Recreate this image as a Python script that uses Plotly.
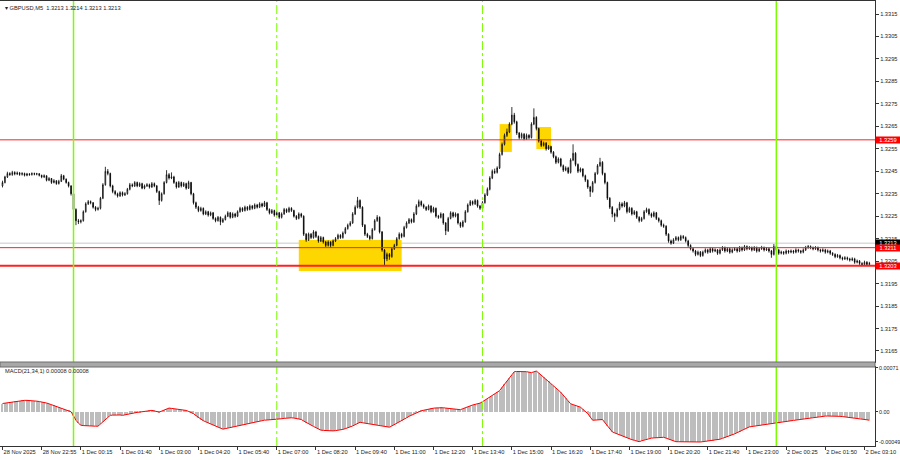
import pandas as pd
import plotly.graph_objects as go

# ---------------- data (prices as pips above BASE) ----------------
BASE = 1.3200
PIP = 0.0001

open_pips = [
    38.5, 40.0, 42.5, 44.0, 43.5, 44.5, 43.8, 44.2, 43.6, 44.0,
    43.2, 43.8, 43.5, 44.0, 43.7, 43.9, 43.2, 42.5, 43.0, 41.0,
    41.8, 40.0, 40.8, 39.5, 40.5, 43.0, 41.5, 40.0, 38.5, 35.0,
    28.0, 23.0, 22.5, 23.0, 27.0, 30.5, 31.5, 31.0, 29.0, 28.0,
    28.5, 33.0, 39.0, 45.0, 44.0, 38.5, 36.0, 35.0, 34.0, 35.5,
    34.5, 35.0, 37.0, 39.0, 38.5, 40.0, 38.5, 39.5, 37.5, 38.5,
    39.0, 38.0, 39.5, 38.5, 36.0, 32.0, 35.0, 40.0, 43.5, 42.0,
    42.5, 40.0, 38.0, 40.0, 38.5, 39.5, 37.5, 40.0, 35.0, 31.0,
    29.0, 27.5, 28.5, 26.0, 27.0, 25.5, 26.5, 24.0, 23.0, 24.5,
    22.5, 23.5, 25.0, 26.5, 24.5, 26.0, 25.0, 27.0, 28.5, 27.5,
    29.0, 28.0, 29.5, 28.5, 30.0, 29.0, 30.5, 29.5, 31.0, 28.0,
    26.5, 27.5, 25.5, 26.5, 24.5, 26.0, 28.0, 27.0, 28.5, 27.5,
    25.0, 24.0, 26.0, 25.0, 17.0, 14.5, 17.0, 15.5, 18.0, 16.0,
    14.0, 15.5, 13.5, 12.0, 13.5, 12.0, 14.0, 15.0, 16.5, 15.5,
    17.5, 19.5, 21.0, 22.0, 26.0, 29.0, 32.0, 29.0, 21.0, 17.0,
    16.0, 15.0, 19.0, 23.0, 24.5, 18.0, 10.0, 6.0, 8.0, 7.0,
    10.5, 12.0, 15.0, 17.0, 16.0, 20.0, 22.0, 23.5, 22.5, 26.0,
    29.5, 31.5, 30.0, 29.0, 28.0, 29.5, 27.0, 28.5, 25.0, 24.5,
    26.0, 22.0, 18.5, 24.0, 26.5, 25.0, 26.0, 22.0, 20.5, 22.5,
    27.0, 30.0, 31.5, 30.5, 32.0, 29.5, 28.5, 31.0, 34.5, 37.0,
    42.0, 45.0, 44.5, 46.5, 52.5, 57.0, 61.0, 62.5, 66.0, 70.0,
    67.0, 62.0, 60.0, 61.5, 59.5, 61.0, 60.0, 66.0, 69.0, 64.0,
    58.5, 56.5, 57.5, 55.0, 56.0, 53.5, 51.5, 49.0, 50.5, 47.5,
    45.5, 46.5, 44.5, 50.0, 53.0, 48.0, 45.0, 46.0, 43.0, 41.0,
    38.0, 36.0, 40.0, 44.0, 47.5, 49.0, 44.0, 40.0, 33.0, 29.0,
    26.0, 25.0, 28.0, 30.5, 29.5, 31.0, 27.0, 28.5, 26.0, 27.0,
    24.5, 23.0, 24.0, 27.0, 28.0, 26.0, 25.0, 26.5, 24.0, 23.0,
    21.0, 20.5, 17.0, 14.0, 13.0, 14.5, 15.5, 14.5, 16.0, 15.5,
    14.0, 12.0, 10.5, 9.5, 8.0, 9.0, 7.5, 9.0, 10.0, 9.0,
    10.5, 9.5, 10.0, 8.5, 10.0, 11.0, 9.5, 10.5, 9.0, 10.0,
    10.5, 9.5, 11.0, 10.0, 11.5, 10.5, 11.0, 10.0, 11.0, 9.5,
    10.5, 11.0, 10.0, 10.5, 9.5, 8.0, 11.5, 10.0, 8.5, 9.0,
    8.5, 9.5, 9.0, 9.5, 9.0, 10.0, 9.5, 9.0, 10.0, 11.0,
    11.5, 11.0, 10.5, 11.0, 10.0, 9.5, 10.0, 9.0, 9.5, 8.5,
    8.0, 7.0, 7.5, 6.5, 6.0, 6.5, 6.0, 5.5, 6.0, 4.5,
    5.0, 4.0, 3.5, 4.5, 3.5,
]

high_pips = [
    40.8, 43.0, 44.8, 44.6, 45.2, 45.0, 44.9, 44.7, 44.6, 44.4,
    44.3, 44.2, 44.5, 44.4, 44.3, 44.2, 43.5, 43.6, 43.2, 42.4,
    42.0, 41.5, 41.0, 41.2, 43.8, 43.4, 41.8, 40.4, 38.8, 35.3,
    28.5, 23.8, 23.6, 27.6, 31.2, 32.2, 32.0, 31.3, 29.5, 29.2,
    33.6, 39.7, 47.0, 46.0, 44.4, 39.0, 36.6, 35.5, 36.1, 36.0,
    35.7, 37.6, 39.8, 39.6, 40.6, 40.4, 40.1, 39.9, 39.1, 39.7,
    39.5, 40.2, 40.0, 38.9, 36.4, 35.6, 40.6, 45.5, 44.2, 44.5,
    43.0, 40.4, 40.7, 40.4, 40.2, 39.9, 40.8, 40.3, 35.4, 31.5,
    29.6, 29.2, 28.9, 27.6, 27.4, 27.1, 26.9, 24.5, 25.1, 24.9,
    24.2, 25.7, 27.2, 26.9, 26.7, 26.5, 27.6, 29.2, 29.0, 29.7,
    29.5, 30.2, 30.0, 30.7, 30.5, 31.2, 31.0, 31.8, 31.4, 28.5,
    28.2, 27.9, 27.2, 26.9, 26.7, 28.7, 28.5, 29.2, 29.0, 27.9,
    25.5, 26.7, 26.5, 25.4, 17.5, 17.7, 17.5, 18.8, 18.5, 16.4,
    16.2, 15.9, 14.0, 14.2, 13.9, 14.7, 15.7, 17.2, 17.0, 18.2,
    20.2, 21.7, 22.8, 26.8, 29.8, 33.6, 32.5, 29.4, 21.5, 17.6,
    16.6, 19.7, 23.7, 25.5, 24.9, 18.4, 10.4, 8.8, 8.6, 11.2,
    12.7, 15.7, 17.8, 17.6, 20.7, 22.7, 24.2, 24.0, 26.8, 30.3,
    32.4, 32.0, 30.6, 29.5, 30.2, 29.9, 29.2, 28.9, 25.6, 26.7,
    26.4, 22.4, 24.7, 27.2, 27.0, 26.7, 26.4, 22.5, 23.2, 27.7,
    30.7, 32.2, 32.0, 32.7, 32.4, 30.0, 31.7, 35.2, 37.8, 42.8,
    45.8, 46.2, 47.2, 53.3, 57.8, 61.8, 64.0, 66.8, 73.6, 71.0,
    67.5, 62.5, 62.2, 62.0, 61.8, 61.5, 66.8, 73.0, 69.5, 64.4,
    59.0, 58.2, 58.0, 56.7, 56.4, 54.0, 52.0, 51.2, 51.0, 48.0,
    47.2, 47.0, 50.8, 57.0, 53.5, 48.5, 46.7, 46.4, 43.5, 41.4,
    38.5, 40.7, 44.7, 48.2, 51.0, 49.5, 44.4, 40.4, 33.5, 29.5,
    26.6, 28.7, 31.4, 31.2, 31.8, 31.4, 29.2, 29.0, 27.7, 27.4,
    25.0, 24.7, 27.7, 28.8, 28.5, 26.6, 27.2, 26.9, 24.5, 23.5,
    21.7, 21.0, 17.4, 14.6, 15.2, 16.2, 16.0, 16.7, 16.6, 16.0,
    14.5, 12.5, 11.0, 10.0, 9.7, 9.5, 9.7, 10.7, 10.5, 11.2,
    11.0, 10.7, 10.4, 10.7, 11.7, 11.5, 11.2, 11.0, 10.7, 11.2,
    11.0, 11.7, 11.5, 12.2, 12.0, 11.7, 11.5, 11.7, 11.5, 11.2,
    11.8, 11.5, 11.2, 11.0, 10.0, 12.6, 12.0, 10.5, 9.7, 9.5,
    10.2, 10.0, 10.2, 10.0, 10.7, 10.5, 10.0, 10.7, 11.8, 12.2,
    12.0, 11.5, 11.7, 11.5, 10.5, 10.7, 10.5, 10.2, 10.0, 9.0,
    8.5, 8.2, 8.0, 7.0, 7.2, 7.0, 6.5, 6.7, 6.5, 5.7,
    5.5, 4.5, 5.2, 5.0, 4.7,
]

low_pips = [
    37.8, 39.6, 42.0, 43.0, 43.0, 43.2, 43.3, 43.0, 43.1, 42.7,
    42.8, 43.0, 43.1, 43.2, 43.2, 42.7, 41.9, 42.0, 40.5, 40.6,
    39.4, 39.6, 39.0, 39.1, 40.2, 41.0, 39.5, 37.8, 34.2, 27.0,
    21.0, 21.5, 21.8, 22.6, 26.6, 30.0, 30.3, 28.4, 27.2, 27.5,
    28.0, 32.6, 38.6, 43.2, 37.8, 35.2, 34.3, 33.3, 33.6, 33.8,
    34.0, 34.6, 36.5, 37.9, 38.0, 37.9, 38.0, 37.0, 37.0, 38.0,
    37.3, 37.6, 37.9, 35.3, 30.0, 31.5, 34.6, 39.6, 41.3, 41.5,
    39.4, 37.3, 37.6, 37.8, 38.0, 36.8, 37.1, 34.3, 30.2, 28.2,
    26.8, 27.0, 25.4, 25.5, 24.8, 25.0, 23.4, 22.3, 22.6, 21.0,
    22.0, 23.1, 24.6, 23.9, 24.1, 24.3, 24.6, 26.6, 26.9, 27.1,
    27.4, 27.6, 27.9, 28.1, 28.4, 28.6, 28.9, 29.1, 27.3, 25.8,
    26.0, 24.8, 25.0, 23.8, 24.0, 25.6, 26.4, 26.6, 26.9, 24.4,
    23.3, 23.6, 24.3, 16.2, 13.6, 14.0, 14.8, 15.0, 15.3, 13.2,
    13.5, 12.8, 11.2, 11.5, 11.0, 11.6, 13.5, 14.6, 14.9, 15.0,
    17.0, 19.0, 20.4, 21.6, 25.5, 28.5, 28.2, 20.2, 16.2, 15.3,
    14.3, 14.6, 18.6, 22.5, 17.3, 9.2, 3.3, 5.0, 5.6, 6.5,
    10.0, 11.6, 14.5, 15.2, 15.6, 19.5, 21.5, 21.8, 22.0, 25.5,
    29.0, 29.3, 28.3, 27.3, 27.6, 26.3, 26.6, 24.3, 23.8, 24.0,
    21.2, 16.6, 18.0, 23.6, 24.3, 24.5, 21.3, 19.8, 20.0, 22.1,
    26.6, 29.5, 29.8, 30.0, 28.8, 27.8, 28.0, 30.6, 34.0, 36.5,
    41.5, 43.8, 44.0, 46.0, 52.0, 56.5, 60.3, 62.0, 65.5, 66.2,
    61.2, 59.2, 59.5, 58.8, 59.0, 59.3, 59.6, 65.5, 63.2, 57.8,
    55.8, 56.0, 54.2, 54.5, 52.8, 50.8, 48.2, 48.5, 46.8, 44.7,
    45.0, 43.8, 44.0, 49.5, 47.2, 44.2, 44.5, 42.3, 40.2, 37.2,
    33.6, 35.5, 39.5, 43.5, 47.0, 43.2, 39.2, 32.2, 28.2, 24.5,
    22.5, 24.5, 27.6, 28.8, 29.0, 26.2, 26.5, 25.3, 25.5, 23.8,
    22.2, 22.5, 23.5, 26.5, 25.3, 24.3, 24.5, 23.3, 22.2, 20.3,
    19.8, 16.2, 13.2, 12.3, 12.6, 14.0, 13.8, 14.0, 14.8, 13.3,
    11.2, 9.8, 8.8, 7.2, 7.5, 6.8, 7.0, 8.5, 8.3, 8.6,
    8.8, 9.0, 7.8, 8.0, 9.5, 8.8, 9.0, 8.3, 8.5, 9.5,
    8.8, 9.0, 9.3, 9.5, 9.8, 10.0, 9.3, 9.5, 8.8, 9.0,
    10.0, 9.3, 9.5, 8.8, 6.5, 7.5, 9.3, 7.8, 8.0, 7.8,
    8.0, 8.3, 8.5, 8.3, 8.5, 8.8, 8.3, 8.5, 9.5, 10.5,
    10.3, 9.8, 10.0, 9.3, 8.8, 9.0, 8.3, 8.5, 7.8, 7.3,
    6.3, 6.5, 5.8, 5.3, 5.5, 5.3, 4.8, 5.0, 3.8, 4.0,
    3.3, 2.8, 2.8, 2.8, 3.0,
]

close_pips = [
    40.0, 42.5, 44.0, 43.5, 44.5, 43.8, 44.2, 43.6, 44.0, 43.2,
    43.8, 43.5, 44.0, 43.7, 43.9, 43.2, 42.5, 43.0, 41.0, 41.8,
    40.0, 40.8, 39.5, 40.5, 43.0, 41.5, 40.0, 38.5, 35.0, 28.0,
    23.0, 22.5, 23.0, 27.0, 30.5, 31.5, 31.0, 29.0, 28.0, 28.5,
    33.0, 39.0, 45.0, 44.0, 38.5, 36.0, 35.0, 34.0, 35.5, 34.5,
    35.0, 37.0, 39.0, 38.5, 40.0, 38.5, 39.5, 37.5, 38.5, 39.0,
    38.0, 39.5, 38.5, 36.0, 32.0, 35.0, 40.0, 43.5, 42.0, 42.5,
    40.0, 38.0, 40.0, 38.5, 39.5, 37.5, 40.0, 35.0, 31.0, 29.0,
    27.5, 28.5, 26.0, 27.0, 25.5, 26.5, 24.0, 23.0, 24.5, 22.5,
    23.5, 25.0, 26.5, 24.5, 26.0, 25.0, 27.0, 28.5, 27.5, 29.0,
    28.0, 29.5, 28.5, 30.0, 29.0, 30.5, 29.5, 31.0, 28.0, 26.5,
    27.5, 25.5, 26.5, 24.5, 26.0, 28.0, 27.0, 28.5, 27.5, 25.0,
    24.0, 26.0, 25.0, 17.0, 14.5, 17.0, 15.5, 18.0, 16.0, 14.0,
    15.5, 13.5, 12.0, 13.5, 12.0, 14.0, 15.0, 16.5, 15.5, 17.5,
    19.5, 21.0, 22.0, 26.0, 29.0, 32.0, 29.0, 21.0, 17.0, 16.0,
    15.0, 19.0, 23.0, 24.5, 18.0, 10.0, 6.0, 8.0, 7.0, 10.5,
    12.0, 15.0, 17.0, 16.0, 20.0, 22.0, 23.5, 22.5, 26.0, 29.5,
    31.5, 30.0, 29.0, 28.0, 29.5, 27.0, 28.5, 25.0, 24.5, 26.0,
    22.0, 18.5, 24.0, 26.5, 25.0, 26.0, 22.0, 20.5, 22.5, 27.0,
    30.0, 31.5, 30.5, 32.0, 29.5, 28.5, 31.0, 34.5, 37.0, 42.0,
    45.0, 44.5, 46.5, 52.5, 57.0, 61.0, 62.5, 66.0, 70.0, 67.0,
    62.0, 60.0, 61.5, 59.5, 61.0, 60.0, 66.0, 69.0, 64.0, 58.5,
    56.5, 57.5, 55.0, 56.0, 53.5, 51.5, 49.0, 50.5, 47.5, 45.5,
    46.5, 44.5, 50.0, 53.0, 48.0, 45.0, 46.0, 43.0, 41.0, 38.0,
    36.0, 40.0, 44.0, 47.5, 49.0, 44.0, 40.0, 33.0, 29.0, 26.0,
    25.0, 28.0, 30.5, 29.5, 31.0, 27.0, 28.5, 26.0, 27.0, 24.5,
    23.0, 24.0, 27.0, 28.0, 26.0, 25.0, 26.5, 24.0, 23.0, 21.0,
    20.5, 17.0, 14.0, 13.0, 14.5, 15.5, 14.5, 16.0, 15.5, 14.0,
    12.0, 10.5, 9.5, 8.0, 9.0, 7.5, 9.0, 10.0, 9.0, 10.5,
    9.5, 10.0, 8.5, 10.0, 11.0, 9.5, 10.5, 9.0, 10.0, 10.5,
    9.5, 11.0, 10.0, 11.5, 10.5, 11.0, 10.0, 11.0, 9.5, 10.5,
    11.0, 10.0, 10.5, 9.5, 8.0, 11.5, 10.0, 8.5, 9.0, 8.5,
    9.5, 9.0, 9.5, 9.0, 10.0, 9.5, 9.0, 10.0, 11.0, 11.5,
    11.0, 10.5, 11.0, 10.0, 9.5, 10.0, 9.0, 9.5, 8.5, 8.0,
    7.0, 7.5, 6.5, 6.0, 6.5, 6.0, 5.5, 6.0, 4.5, 5.0,
    4.0, 3.5, 4.5, 3.5, 4.0,
]

# MACD(21,34,1) main values, in units of 0.00001
macd_e5 = [
    13.4, 14.1, 14.8, 15.5, 16.2, 16.9, 17.6, 18.2, 18.4, 18.5,
    18.5, 18.4, 18.2, 17.7, 17.2, 16.6, 16.1, 15.5, 14.2, 12.9,
    11.6, 10.2, 8.9, 7.6, 6.3, 5.0, 3.4, 1.8, 0.0, -6.5,
    -13.8, -18.5, -21.8, -22.4, -22.8, -22.9, -23.0, -23.2, -23.4, -23.4,
    -20.0, -16.5, -12.8, -9.2, -5.8, -5.4, -5.0, -4.8, -5.2, -5.8,
    -4.8, -3.9, -2.9, -2.0, -1.5, -1.0, -0.5, 0.0, 0.6, 1.1,
    1.7, 2.2, 1.3, 0.4, -0.5, 1.1, 2.7, 4.4, 6.0, 5.5,
    5.0, 4.4, 3.9, 3.3, 2.8, 2.2, 0.5, -1.3, -3.0, -6.2,
    -9.4, -12.6, -14.4, -16.3, -18.1, -20.0, -21.8, -23.4, -25.0, -26.6,
    -28.2, -27.3, -26.4, -25.4, -24.5, -23.8, -23.2, -22.5, -21.8, -20.8,
    -19.8, -18.8, -17.8, -16.8, -15.8, -14.8, -13.8, -13.6, -13.4, -13.2,
    -13.0, -12.8, -12.6, -12.0, -11.3, -10.7, -10.0, -9.4, -9.8, -10.2,
    -10.6, -11.0, -12.5, -15.0, -17.5, -19.8, -21.8, -23.8, -25.8, -27.8,
    -29.8, -30.2, -30.6, -31.0, -31.4, -31.0, -30.6, -30.2, -29.8, -28.6,
    -27.4, -26.2, -25.0, -23.0, -21.0, -19.0, -17.0, -17.8, -18.5, -19.3,
    -20.0, -20.5, -20.9, -21.4, -21.8, -22.6, -23.4, -24.2, -25.0, -23.0,
    -21.0, -19.0, -17.0, -14.6, -12.2, -9.8, -7.4, -5.4, -3.4, -1.4,
    0.6, 1.6, 2.5, 3.5, 4.4, 5.4, 5.8, 6.2, 6.6, 7.0,
    6.5, 6.0, 5.5, 5.0, 4.6, 4.2, 3.8, 3.4, 5.0, 6.7,
    8.3, 10.0, 11.0, 12.0, 13.0, 14.0, 16.3, 18.7, 21.0, 23.6,
    26.3, 28.9, 31.6, 34.2, 39.5, 44.7, 50.0, 55.0, 60.0, 65.0,
    65.3, 65.5, 65.2, 64.8, 65.0, 64.2, 63.5, 64.8, 66.0, 62.8,
    59.5, 56.3, 53.0, 49.4, 45.8, 42.3, 38.7, 35.1, 31.5, 26.9,
    22.3, 17.6, 13.0, 11.6, 10.3, 8.9, 7.5, 4.0, 0.5, -3.0,
    -8.4, -13.8, -13.5, -13.2, -12.9, -12.6, -17.6, -22.6, -27.5, -32.5,
    -34.3, -36.0, -37.8, -39.5, -41.3, -43.0, -44.1, -45.2, -46.3, -47.4,
    -48.5, -47.1, -45.8, -44.4, -43.0, -42.7, -42.4, -42.0, -41.7, -41.4,
    -41.4, -42.8, -44.3, -45.7, -47.1, -48.5, -48.6, -48.7, -48.8, -48.8,
    -48.9, -48.9, -49.0, -49.0, -49.0, -49.0, -48.5, -48.0, -47.6, -47.1,
    -46.7, -46.2, -45.8, -44.5, -43.1, -41.8, -40.5, -39.1, -37.8, -35.8,
    -33.9, -32.0, -30.2, -28.3, -26.4, -24.5, -23.9, -23.4, -22.8, -22.2,
    -21.6, -21.0, -20.4, -19.8, -19.2, -18.6, -18.0, -17.4, -16.8, -16.3,
    -15.7, -15.1, -14.6, -14.0, -13.4, -12.8, -12.2, -11.6, -11.0, -10.4,
    -9.8, -9.2, -8.6, -8.0, -7.4, -7.2, -7.0, -6.9, -6.8, -6.9,
    -7.0, -7.2, -7.4, -7.8, -8.2, -8.6, -9.0, -9.4, -9.8, -10.2,
    -10.6, -11.4, -12.2, -13.0, -13.8,
]

x_tick_labels = [
    "28 Nov 2025", "28 Nov 22:55", "1 Dec 00:15", "1 Dec 01:40", "1 Dec 03:00",
    "1 Dec 04:20", "1 Dec 05:40", "1 Dec 07:00", "1 Dec 08:20", "1 Dec 09:40",
    "1 Dec 11:00", "1 Dec 12:20", "1 Dec 13:40", "1 Dec 15:00", "1 Dec 16:20",
    "1 Dec 17:40", "1 Dec 19:00", "1 Dec 20:20", "1 Dec 21:40", "1 Dec 23:00",
    "2 Dec 00:25", "2 Dec 01:50", "2 Dec 03:10",
]
price_ticks = [1.3165, 1.3175, 1.3185, 1.3195, 1.3205, 1.3215, 1.3225, 1.3235,
               1.3245, 1.3255, 1.3265, 1.3275, 1.3285, 1.3295, 1.3305, 1.3315]
macd_ticks = [-0.00049, 0.0, 0.00071]
macd_tick_labels = ["-0.00049", "0.00", "0.00071"]

red_levels = [1.3259, 1.3211]
strong_level = 1.3203
bid_level = 1.3213

day_separators = ["2025-12-01 00:00", "2025-12-02 00:00"]
session_lines = ["2025-12-01 07:00", "2025-12-01 14:00"]
zones = [  # (start bar, end bar, low price, high price)
    ("2025-12-01 07:45", "2025-12-01 11:15", 1.32006, 1.32144),
    ("2025-12-01 14:35", "2025-12-01 15:00", 1.32536, 1.32660),
    ("2025-12-01 15:50", "2025-12-01 16:20", 1.32549, 1.32647),
]

# ---------------- build ----------------
n = len(close_pips)
opens = [BASE + v * PIP for v in open_pips]
highs = [BASE + v * PIP for v in high_pips]
lows = [BASE + v * PIP for v in low_pips]
closes = [BASE + v * PIP for v in close_pips]
macd = [v * 1e-5 for v in macd_e5]

fri = pd.date_range("2025-11-28 21:35", "2025-11-28 23:55", freq="5min")
rest = pd.date_range("2025-12-01 00:00", "2025-12-02 04:00", freq="5min")
missing = pd.to_datetime(["2025-12-01 01:00", "2025-12-02 00:05", "2025-12-02 01:00"])
rest = rest[~rest.isin(missing)]
times = fri.append(rest)[:n]
idx = list(range(n))


def pos(t):
    return int(times.get_loc(pd.Timestamp(t)))


tickvals = []
for lbl in x_tick_labels:
    if ":" in lbl:
        tickvals.append(pos(pd.to_datetime(lbl + " 2025", format="%d %b %H:%M %Y")))
    else:
        tickvals.append(0)

W, H = 900, 460
ML, MR, MT, MB = 0, 25, 1, 14
PW, PH = W - ML - MR, H - MT - MB


def px_x(px):
    return (px - ML) / PW


def px_y(py):
    return (H - MB - py) / PH


fig = go.Figure()

fig.add_trace(go.Candlestick(
    x=idx, open=opens, high=highs, low=lows, close=closes,
    xaxis="x2", yaxis="y",
    increasing=dict(line=dict(color="#000000", width=0.8), fillcolor="#ffffff"),
    decreasing=dict(line=dict(color="#000000", width=0.8), fillcolor="#000000"),
    whiskerwidth=0, showlegend=False, hoverinfo="skip",
))

fig.add_trace(go.Bar(
    x=idx, y=macd, xaxis="x", yaxis="y2", width=0.45,
    marker=dict(color="#bdbdbd", line=dict(width=0)),
    showlegend=False, hoverinfo="skip",
))
fig.add_trace(go.Scatter(
    x=idx, y=macd, xaxis="x", yaxis="y2", mode="lines",
    line=dict(color="#ff0000", width=1), showlegend=False, hoverinfo="skip",
))

shapes = []
for t0, t1, p0, p1 in zones:
    shapes.append(dict(type="rect", xref="x2", yref="y", x0=pos(t0), x1=pos(t1),
                       y0=p0, y1=p1, fillcolor="#ffd700", line=dict(width=0),
                       layer="below"))
shapes.append(dict(type="line", xref="x2 domain", yref="y", x0=0, x1=1,
                   y0=bid_level, y1=bid_level, line=dict(color="#c8c8c8", width=1),
                   layer="below"))
for lv in red_levels:
    shapes.append(dict(type="line", xref="x2 domain", yref="y", x0=0, x1=1,
                       y0=lv, y1=lv, line=dict(color="#ff2020", width=1)))
shapes.append(dict(type="line", xref="x2 domain", yref="y", x0=0, x1=1,
                   y0=strong_level, y1=strong_level, line=dict(color="#ff2020", width=2)))
for t in day_separators:
    shapes.append(dict(type="line", xref="x", yref="paper", x0=pos(t), x1=pos(t),
                       y0=0, y1=1, line=dict(color="#7cfc00", width=1.5)))
for t in session_lines:
    shapes.append(dict(type="line", xref="x", yref="paper", x0=pos(t), x1=pos(t),
                       y0=0, y1=1, line=dict(color="#7cfc00", width=1, dash="dashdot")))
# separator between price window and indicator window
shapes.append(dict(type="rect", xref="paper", yref="paper", x0=0, x1=1,
                   y0=px_y(367), y1=px_y(362), fillcolor="#a8a8a8",
                   line=dict(color="#6e6e6e", width=1)))
fig.update_layout(shapes=shapes)

FONT = "Liberation Sans"
FS = 5.7
annotations = [
    dict(xref="paper", yref="paper", x=px_x(3), y=px_y(8), xanchor="left", yanchor="middle",
         text="▾ GBPUSD,M5  1.3213 1.3214 1.3213 1.3213", showarrow=False,
         font=dict(family=FONT, size=FS, color="#222222")),
    dict(xref="paper", yref="paper", x=px_x(3), y=px_y(371), xanchor="left", yanchor="middle",
         text="MACD(21,34,1) 0.00008 0.00008", showarrow=False,
         font=dict(family=FONT, size=FS, color="#222222")),
]
for lv, bg in [(red_levels[0], "#ff0000"), (bid_level, "#000000"),
               (red_levels[1], "#ff0000"), (strong_level, "#ff0000")]:
    annotations.append(dict(xref="paper", yref="y", x=1.0, y=lv, xanchor="left",
                            yanchor="middle", text=f"{lv:.4f}", showarrow=False,
                            bgcolor=bg, borderpad=0, width=24, height=6,
                            font=dict(family=FONT, size=FS, color="#ffffff")))
fig.update_layout(annotations=annotations)

axis_line = "#333333"
tick_font = dict(family=FONT, size=FS, color="#222222")
fig.update_layout(
    width=W, height=H, autosize=False,
    margin=dict(l=ML, r=MR, t=MT, b=MB, pad=0, autoexpand=False),
    paper_bgcolor="#ffffff", plot_bgcolor="#ffffff",
    font=dict(family=FONT, size=FS, color="#222222"),
    showlegend=False,
    bargap=0, boxgap=0.6,
    xaxis=dict(domain=[0, 1], anchor="y2", range=[-1.02, 356.3], automargin=False,
               tickvals=tickvals, ticktext=x_tick_labels, ticks="outside",
               ticklen=3, tickcolor=axis_line, ticklabelposition="outside right",
               tickangle=0,
               showline=True, linecolor=axis_line, linewidth=1, mirror=True,
               showgrid=False, zeroline=False, rangeslider=dict(visible=False),
               tickfont=tick_font),
    xaxis2=dict(domain=[0, 1], anchor="y", matches="x", showticklabels=False,
                automargin=False,
                ticks="", showline=True, linecolor=axis_line, linewidth=1, mirror=True,
                showgrid=False, zeroline=False, rangeslider=dict(visible=False)),
    yaxis=dict(domain=[px_y(362), 1], anchor="x2", side="right", automargin=False,
               range=[1.31601, 1.33208], tickvals=price_ticks,
               ticktext=[f"{p:.4f}" for p in price_ticks], ticks="outside",
               ticklen=3, tickcolor=axis_line, showline=True, linecolor=axis_line,
               linewidth=1, mirror=True, showgrid=False, zeroline=False,
               tickfont=tick_font),
    yaxis2=dict(domain=[0, px_y(367)], anchor="x", side="right", automargin=False,
                range=[-0.000555, 0.000726], tickvals=macd_ticks,
                ticktext=macd_tick_labels, ticks="outside", ticklen=2,
                ticklabelstandoff=0,
                tickcolor=axis_line, showline=True, linecolor=axis_line,
                linewidth=1, mirror=True, showgrid=False, zeroline=False,
                tickfont=dict(family=FONT, size=5.4, color="#222222")),
)

fig.write_html(
    "out.html",
    config={"displayModeBar": False, "responsive": False},
    post_script="document.body.style.margin='0';document.body.style.padding='0';",
)
